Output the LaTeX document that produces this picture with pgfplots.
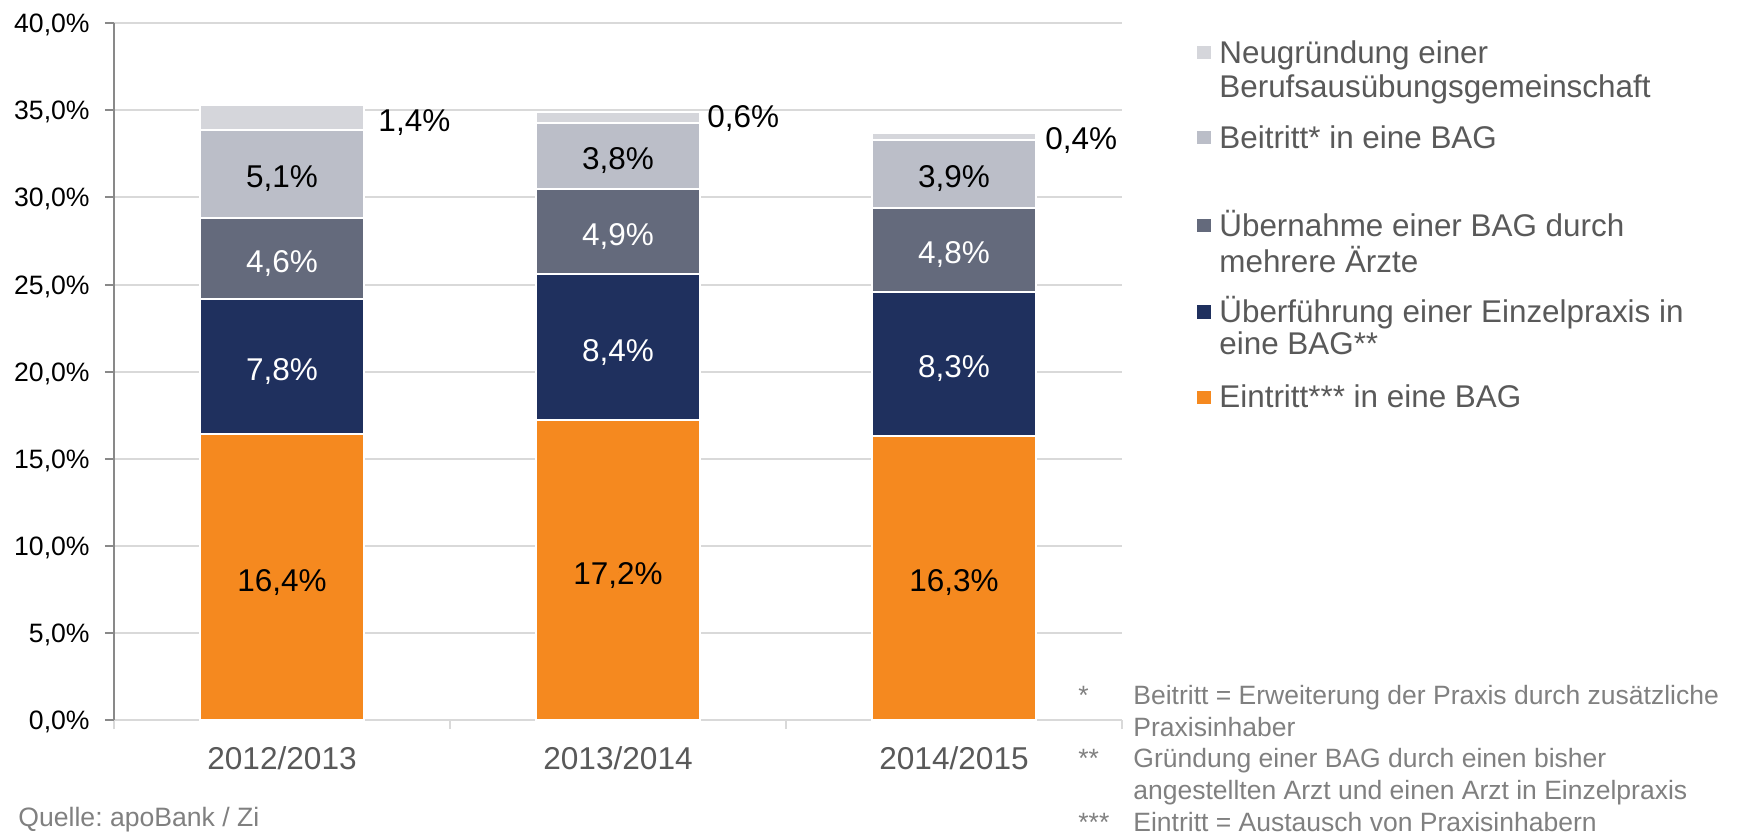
\documentclass[border=0pt]{standalone}
\usepackage{pgfplots}
\pgfplotsset{compat=1.18}
\usepackage{pgfplotstable}
\usepackage{fontspec}
\setmainfont{Liberation Sans}
\frenchspacing
\definecolor{cOrange}{HTML}{F5891F}
\definecolor{cNavy}{HTML}{1F305E}
\definecolor{cSlate}{HTML}{646A7C}
\definecolor{cLight}{HTML}{BBBEC8}
\definecolor{cLighter}{HTML}{D5D6DB}
\definecolor{cGrid}{HTML}{D9D9D9}
\definecolor{cAxis}{HTML}{898989}
\definecolor{cText}{HTML}{595959}
\definecolor{cNote}{HTML}{808080}
\newcommand\fs[1]{\fontsize{#1}{#1}\selectfont}

\pgfplotstableread{
x eintritt ueberf uebern beitritt neugr
0 16.4 7.8 4.6 5.1 1.4
1 17.2 8.4 4.9 3.8 0.6
2 16.3 8.3 4.8 3.9 0.4
}\datatable

\pgfplotstableread{
x y label
0 8.05 16,4\%
1 8.45 17,2\%
2 8.00 16,3\%
0 31.2 5,1\%
1 32.25 3,8\%
2 31.2 3,9\%
}\blacklabels

\pgfplotstableread{
x y label
0 20.15 7,8\%
1 21.25 8,4\%
2 20.3 8,3\%
0 26.35 4,6\%
1 27.9 4,9\%
2 26.85 4,8\%
}\whitelabels

\pgfplotstableread{
x y label
0.286 34.45 1,4\%
1.265 34.69 0,6\%
2.271 33.43 0,4\%
}\toplabels

\begin{document}
\begin{tikzpicture}
\path[use as bounding box] (0,0) rectangle (871pt,-417.5pt);
% bars
\begin{axis}[
  at={(57pt,-360pt)}, anchor=south west,
  width=504pt, height=348.35pt, scale only axis,
  xmin=-0.5, xmax=2.5, ymin=0, ymax=40,
  ybar stacked, bar width=0.49,
  axis x line*=bottom, axis y line*=left,
  axis line style={-},
  x axis line style={cGrid, line width=1pt},
  y axis line style={cAxis, line width=1pt},
  xtick={-0.5,0.5,1.5,2.5}, xticklabels={},
  ytick={0,5,...,40}, yticklabels={},
  x tick style={cGrid, line width=1pt},
  y tick style={cAxis, line width=1pt},
  major tick length=4.5pt,
  tick align=outside,
  ymajorgrids, grid style={cGrid, line width=1pt},
]
\addplot[fill=cOrange, draw=white, line width=1pt] table[x=x,y=eintritt]{\datatable};
\addplot[fill=cNavy, draw=white, line width=1pt] table[x=x,y=ueberf]{\datatable};
\addplot[fill=cSlate, draw=white, line width=1pt] table[x=x,y=uebern]{\datatable};
\addplot[fill=cLight, draw=white, line width=1pt] table[x=x,y=beitritt]{\datatable};
\addplot[fill=cLighter, draw=white, line width=1pt] table[x=x,y=neugr]{\datatable};
\end{axis}
% labels
\begin{axis}[
  at={(57pt,-360pt)}, anchor=south west,
  width=504pt, height=348.35pt, scale only axis,
  xmin=-0.5, xmax=2.5, ymin=0, ymax=40,
  axis line style={draw=none}, tick style={draw=none},
  xtick={0,1,2}, xticklabels={2012/2013,2013/2014,2014/2015},
  ytick={0,5,...,40},
  yticklabels={{0,0\%},{5,0\%},{10,0\%},{15,0\%},{20,0\%},{25,0\%},{30,0\%},{35,0\%},{40,0\%}},
  xticklabel style={font=\fs{15.8pt}, text=cText, anchor=base, inner sep=0pt, yshift=-24.65pt},
  yticklabel style={font=\fs{13.3pt}, text=black, anchor=base east, inner sep=0pt, xshift=-12pt, yshift=-4.75pt},
  clip=false,
  point meta=explicit symbolic,
]
\addplot[only marks, mark=*, mark size=0pt, mark options={draw=none,fill=none},
  nodes near coords,
  every node near coord/.append style={anchor=base, inner sep=0pt, yshift=-5.64pt, font=\fs{15.75pt}, text=black}]
  table[x=x,y=y,meta=label]{\blacklabels};
\addplot[only marks, mark=*, mark size=0pt, mark options={draw=none,fill=none},
  nodes near coords,
  every node near coord/.append style={anchor=base, inner sep=0pt, yshift=-5.64pt, font=\fs{15.75pt}, text=white}]
  table[x=x,y=y,meta=label]{\whitelabels};
\addplot[only marks, mark=*, mark size=0pt, mark options={draw=none,fill=none},
  nodes near coords,
  every node near coord/.append style={anchor=base west, inner sep=0pt, yshift=-5.64pt, font=\fs{15.75pt}, text=black}]
  table[x=x,y=y,meta=label]{\toplabels};
\end{axis}
\begin{scope}[x=0.5pt, y=-0.5pt]
  % legend
  \fill[cLighter] (1197,45.8) rectangle (1210.5,59.3);
  \fill[cLight]   (1197,130.5) rectangle (1210.5,144);
  \fill[cSlate]   (1197,218.8) rectangle (1210.5,232.3);
  \fill[cNavy]    (1197,305.3) rectangle (1210.5,318.8);
  \fill[cOrange]  (1197,390.8) rectangle (1210.5,404.3);
  \begin{scope}[every node/.style={anchor=base west, inner sep=0pt, font=\fs{15.7pt}, text=cText}]
    \node at (1219,63) {Neugründung einer};
    \node at (1219,97.7) {Berufsausübungsgemeinschaft};
    \node at (1219,148.3) {Beitritt* in eine BAG};
    \node at (1219,236.4) {Übernahme einer BAG durch};
    \node at (1219,272.7) {mehrere Ärzte};
    \node at (1219,322.7) {Überführung einer Einzelpraxis in};
    \node at (1219,354.7) {eine BAG**};
    \node at (1219,407.7) {Eintritt*** in eine BAG};
  \end{scope}
  % footnotes
  \begin{scope}[every node/.style={anchor=base west, inner sep=0pt, font=\fs{13.25pt}, text=cNote}]
    \node at (1078,704) {*};
    \node at (1133,704) {Beitritt = Erweiterung der Praxis durch zusätzliche};
    \node at (1133,736) {Praxisinhaber};
    \node at (1078,767.5) {**};
    \node at (1133,767.5) {Gründung einer BAG durch einen bisher};
    \node at (1133,799.5) {angestellten Arzt und einen Arzt in Einzelpraxis};
    \node at (1078,831) {***};
    \node at (1133,831) {Eintritt = Austausch von Praxisinhabern};
  \end{scope}
  \node[anchor=base west, inner sep=0pt, font=\fs{13.3pt}, text=cNote] at (18,826.7) {Quelle: apoBank / Zi};
\end{scope}
\end{tikzpicture}
\end{document}
